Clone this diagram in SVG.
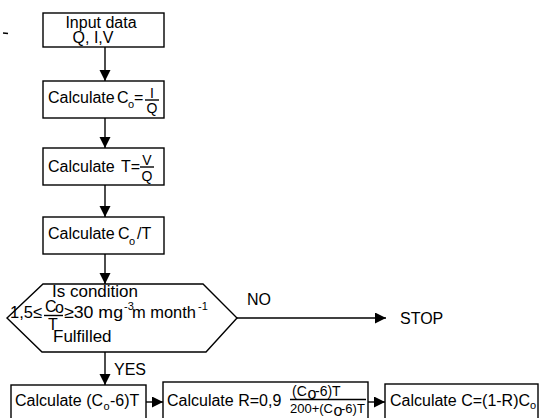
<svg xmlns="http://www.w3.org/2000/svg" width="541" height="418" viewBox="0 0 541 418">
<style>
text{font-family:"Liberation Sans",Arial,sans-serif;font-size:16px;fill:#000}
.b{fill:#fff;stroke:#000;stroke-width:1.4}
.c{fill:none;stroke:#000;stroke-width:1.4}
.s{font-size:11px}
.f{font-size:14px}
.d{font-size:13px}
.h{font-size:17px}
</style>
<defs>
<marker id="ah" markerUnits="userSpaceOnUse" markerWidth="12" markerHeight="12" refX="11" refY="5.5" orient="auto">
<path d="M0,0 L11,5.5 L0,11 z" fill="#000"/>
</marker>
</defs>
<rect width="541" height="418" fill="#fff"/>
<path d="M3,33 L8,33.5" class="c" stroke-width="1"/>
<g id="connectors">
<path class="c" d="M105,47 V81" marker-end="url(#ah)"/>
<path class="c" d="M105,118 V148" marker-end="url(#ah)"/>
<path class="c" d="M105,185 V217" marker-end="url(#ah)"/>
<path class="c" d="M105,254 V284" marker-end="url(#ah)"/>
<path class="c" d="M105,352 V385" marker-end="url(#ah)"/>
<path class="c" d="M237,318 H386" marker-end="url(#ah)"/>
<path class="c" d="M146,402 H163" marker-end="url(#ah)"/>
<path class="c" d="M368,402 H385" marker-end="url(#ah)"/>
<text x="114" y="375">YES</text>
<text x="247" y="305">NO</text>
<text x="400" y="324">STOP</text>
</g>
<g id="input">
<rect class="b" x="43" y="13" width="121" height="34"/>
<text x="101" y="28" text-anchor="middle">Input data</text>
<text x="93" y="43" text-anchor="middle">Q, I,V</text>
</g>
<g id="calc-c0">
<rect class="b" x="43" y="81" width="121" height="37"/>
<text x="48" y="103">Calculate</text>
<text x="117" y="103">C</text>
<text x="128" y="108" class="s">o</text>
<text x="134" y="103">=</text>
<text x="152" y="98" class="f" text-anchor="middle">I</text>
<path class="c" d="M145,100 H159" stroke-width="1.2"/>
<text x="152" y="113" class="f" text-anchor="middle">Q</text>
</g>
<g id="calc-t">
<rect class="b" x="43" y="148" width="121" height="37"/>
<text x="48" y="172">Calculate</text>
<text x="121" y="172">T=</text>
<text x="147" y="165" class="f" text-anchor="middle">V</text>
<path class="c" d="M140,167 H154" stroke-width="1.2"/>
<text x="147" y="181" class="f" text-anchor="middle">Q</text>
</g>
<g id="calc-c0t">
<rect class="b" x="43" y="217" width="121" height="37"/>
<text x="48" y="239">Calculate</text>
<text x="118" y="239">C</text>
<text x="129" y="245" class="s">o</text>
<text x="137" y="239">/T</text>
</g>
<g id="condition">
<path class="b" d="M7,318 L43,284 L203,284 L237,318 L206,352 L42,352 Z"/>
<text x="52" y="297" class="h">Is condition</text>
<text x="10" y="318" class="h" textLength="32" lengthAdjust="spacingAndGlyphs">1,5≤</text>
<text x="45" y="312" font-size="13">C</text>
<text x="55" y="313" font-size="10">o</text>
<path class="c" d="M44,315.5 H63" stroke-width="1.2"/>
<text x="53" y="330" font-size="13" text-anchor="middle">T</text>
<text x="64" y="318" class="h" textLength="59" lengthAdjust="spacingAndGlyphs">≥30 mg</text>
<text x="124" y="310" class="s">-3</text>
<text x="132" y="318" class="h" textLength="64" lengthAdjust="spacingAndGlyphs">m month</text>
<text x="198" y="310" class="s">-1</text>
<text x="53" y="342" class="h">Fulfilled</text>
</g>
<g id="calc-c0-6t">
<rect class="b" x="11" y="385" width="135" height="40"/>
<text x="15" y="406">Calculate (C</text>
<text x="103.5" y="410" class="s">o</text>
<text x="110" y="406">-6)T</text>
</g>
<g id="calc-r">
<rect class="b" x="163" y="382" width="205" height="43"/>
<text x="167" y="406">Calculate R=0,9</text>
<text x="292" y="396" class="f">(C</text>
<text x="307.5" y="399" font-size="10">o</text>
<text x="315" y="396" class="f">-6)T</text>
<path class="c" d="M290,399.5 H366" stroke-width="1.2"/>
<text x="290" y="413" class="d">200+(C</text>
<text x="333.5" y="415.5" font-size="9">o</text>
<text x="341" y="413" class="d">-6)T</text>
</g>
<g id="calc-c">
<rect class="b" x="385" y="384" width="153" height="40"/>
<text x="390" y="406">Calculate C=(1-R)C</text>
<text x="530" y="409" class="s">o</text>
</g>
</svg>
